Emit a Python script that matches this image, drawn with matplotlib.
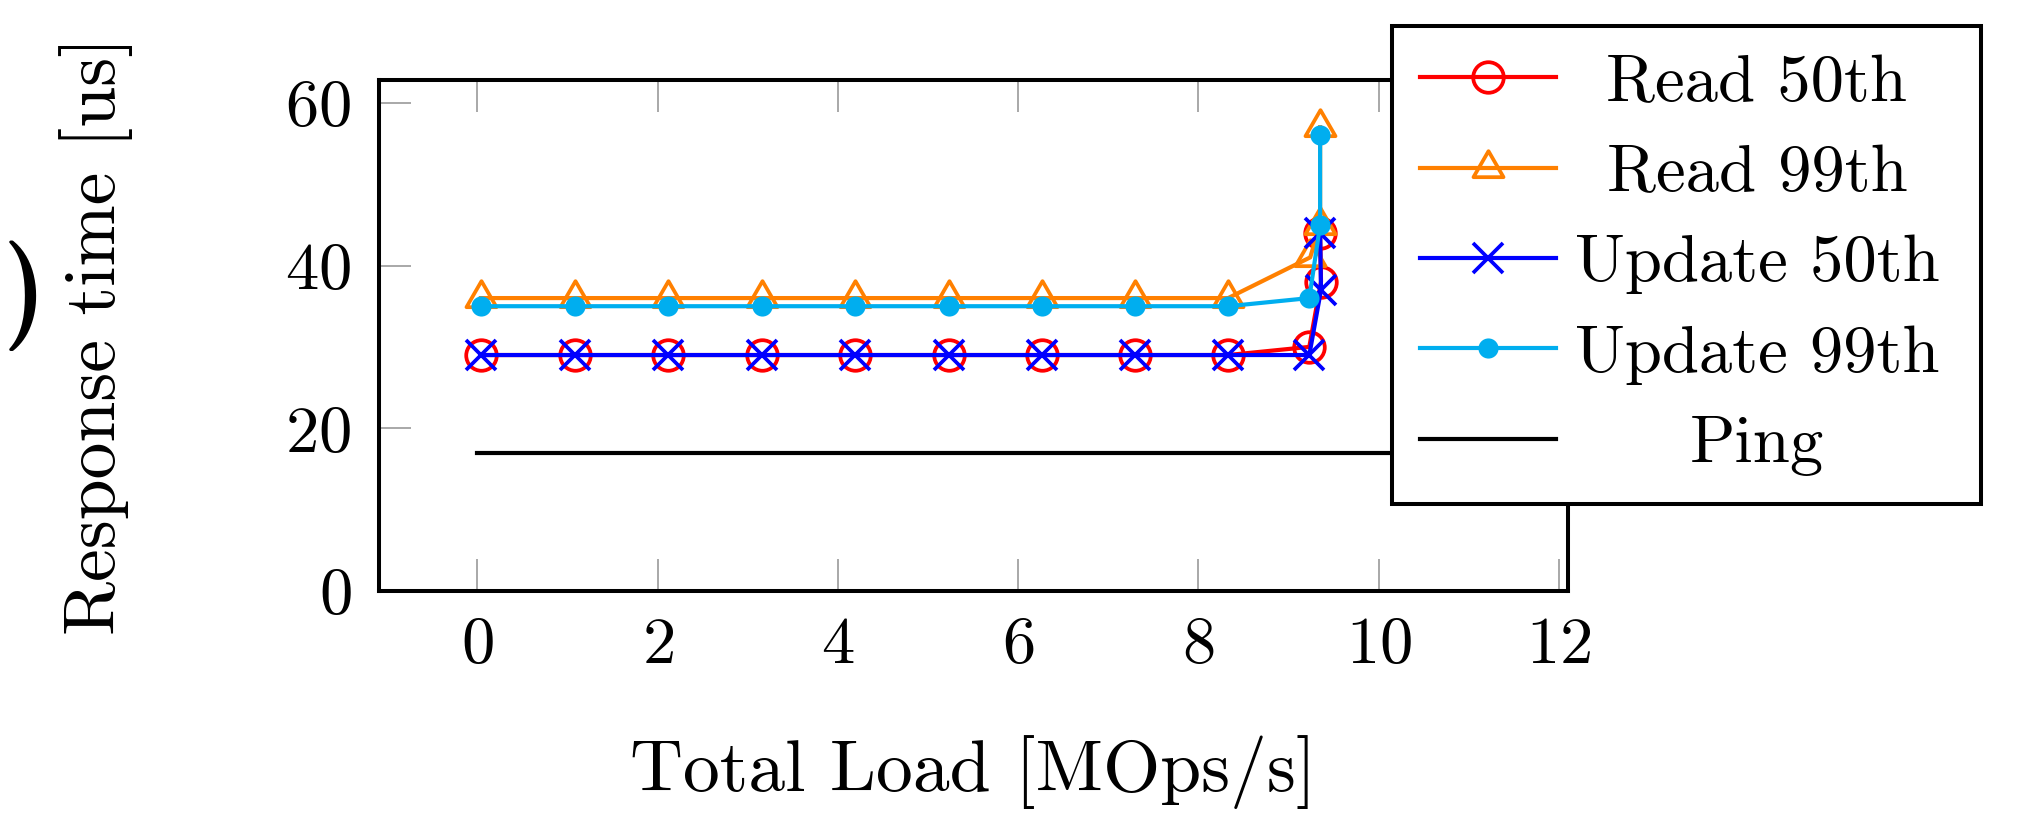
import matplotlib
matplotlib.use("Agg")
import matplotlib.pyplot as plt
from matplotlib.path import Path

plt.rcParams['font.family'] = ['cmr10', 'DejaVu Serif']
plt.rcParams['mathtext.fontset'] = 'cm'
plt.rcParams['axes.unicode_minus'] = False
plt.rcParams['axes.formatter.use_mathtext'] = True

# ---------------- data ----------------
read50_x = [0.04, 1.08, 2.12, 3.16, 4.19, 5.23, 6.27, 7.30, 8.33, 9.23, 9.36, 9.35]
read50_y = [29, 29, 29, 29, 29, 29, 29, 29, 29, 30, 38, 44]

read99_x = [0.04, 1.08, 2.12, 3.16, 4.19, 5.23, 6.27, 7.30, 8.33, 9.24, 9.35, 9.35]
read99_y = [36, 36, 36, 36, 36, 36, 36, 36, 36, 41, 45, 57]

update50_x = [0.04, 1.08, 2.12, 3.16, 4.19, 5.23, 6.27, 7.30, 8.33, 9.23, 9.36, 9.35]
update50_y = [29, 29, 29, 29, 29, 29, 29, 29, 29, 29, 37, 44]

update99_x = [0.04, 1.08, 2.12, 3.16, 4.19, 5.23, 6.27, 7.30, 8.33, 9.23, 9.35, 9.35]
update99_y = [35, 35, 35, 35, 35, 35, 35, 35, 35, 36, 45, 56]

ping_x = [0, 12]
ping_y = [17, 17]

x_ticks = [0, 2, 4, 6, 8, 10, 12]
y_ticks = [0, 20, 40, 60]
series_labels = ['Read 50th', 'Read 99th', 'Update 50th', 'Update 99th', 'Ping']

# ---------------- figure ----------------
fig = plt.figure(figsize=(20.17, 8.18), dpi=100)
ax = fig.add_axes([0.1879, 0.2775, 0.5895, 0.6247])

tri = Path([(0, 1), (-0.866, -0.5), (0.866, -0.5), (0, 1)],
           [Path.MOVETO, Path.LINETO, Path.LINETO, Path.CLOSEPOLY])

lw = 3.0
mew = 2.7
ax.plot(read50_x, read50_y, color='#FF0000', lw=lw, marker='o', ms=22,
        mfc='none', mew=mew, label=series_labels[0])
ax.plot(read99_x, read99_y, color='#FF8000', lw=lw, marker=tri, ms=25,
        mfc='none', mew=mew, label=series_labels[1])
ax.plot(update50_x, update50_y, color='#0000FF', lw=lw, marker='x', ms=21,
        mew=mew, label=series_labels[2])
ax.plot(update99_x, update99_y, color='#00AEEF', lw=lw, marker='o', ms=14.5,
        mew=0, label=series_labels[3])
ax.plot(ping_x, ping_y, color='black', lw=3.0, label=series_labels[4])

ax.set_xlim(-1.09, 12.1)
ax.set_ylim(0, 62.8)
ax.set_xticks(x_ticks)
ax.set_yticks(y_ticks)
ax.tick_params(direction='in', length=23, width=1.2, color='#999999',
               top=True, right=True, labelsize=48)
ax.tick_params(axis='x', pad=18)
ax.tick_params(axis='y', pad=20)
for s in ax.spines.values():
    s.set_linewidth(2.9)

ax.set_xlabel('Total Load [MOps/s]', fontsize=53, va='center')
ax.xaxis.set_label_coords(0.5, -0.354)
ax.set_ylabel('Response time [us]', fontsize=53, va='center')
ax.yaxis.set_label_coords(-0.238, 0.5)

leg = ax.legend(loc='upper left', bbox_to_anchor=(0.6901, 0.3826, 0.2921, 0.5856),
                bbox_transform=fig.transFigure, mode='expand', fontsize=48,
                handlelength=2.04, handletextpad=0.28, borderpad=0.42,
                labelspacing=0.46, frameon=True, fancybox=False,
                edgecolor='black', framealpha=1, borderaxespad=0)
leg.get_frame().set_linewidth(2.9)

# stray parenthesis from neighbouring panel
fig.text(24 / 2017, 1 - 296 / 818, ')', fontsize=80, ha='center', va='center',
         family=['cmb10', 'cmr10', 'DejaVu Serif'])

# centre legend texts in their column
fig.canvas.draw()
r = fig.canvas.get_renderer()
texts = leg.get_texts()
ws = [t.get_window_extent(r).width for t in texts]
W = max(ws)
for t, w in zip(texts, ws):
    t.set_x((W - w) / 2)

fig.savefig('out.png', dpi=100)
